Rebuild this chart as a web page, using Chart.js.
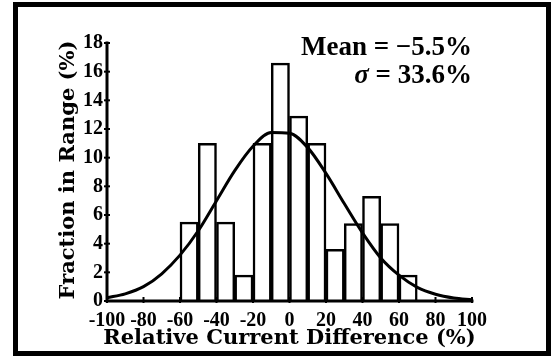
<!DOCTYPE html>
<html>
<head>
<meta charset="utf-8">
<script src="https://cdn.jsdelivr.net/npm/chart.js@4"></script>
<style>
html,body{margin:0;padding:0;background:#fff;}
#wrap{width:558px;height:358px;}
</style>
</head>
<body>
<div id="wrap"><canvas id="c" width="558" height="358"></canvas></div>
<script>
// ---- data ----
const binCenters = [-55, -45, -35, -25, -15, -5, 5, 15, 25, 35, 45, 55, 65];
const binFractions = [5.5, 11.0, 5.5, 1.8, 11.0, 16.6, 12.9, 11.0, 3.6, 5.4, 7.3, 5.4, 1.8];
const curveX = [-100, -90, -80, -70, -60, -50, -40, -30, -20, -10, 0, 10, 20, 30, 40, 50, 60, 70, 80, 90, 100];
const curveY = [0.23, 0.5, 1.0, 1.9, 3.2, 4.9, 7.0, 9.1, 10.8, 11.75, 11.7, 10.7, 8.9, 6.8, 4.75, 3.0, 1.8, 0.95, 0.47, 0.21, 0.09];
const xTicks = [-100, -80, -60, -40, -20, 0, 20, 40, 60, 80, 100];
const yTicks = [0, 2, 4, 6, 8, 10, 12, 14, 16, 18];
const xTitle = "Relative Current Difference (%)";
const yTitle = "Fraction in Range (%)";
const meanText = "Mean = \u22125.5%";
const sigmaSymbol = "\u03c3";
const sigmaText = " = 33.6%";

const TICK_FONT = {family: "'Liberation Serif', serif", size: 20, weight: 'bold'};

const decor = {
  id: 'decor',
  afterDraw(chart) {
    const ctx = chart.ctx;
    const xs = chart.scales.x, ys = chart.scales.y;
    ctx.save();
    ctx.strokeStyle = '#000';
    const x0 = xs.getPixelForValue(-100), x1 = xs.getPixelForValue(100);
    const y0 = ys.getPixelForValue(0), yTop = ys.getPixelForValue(18);
    // axis lines
    ctx.lineWidth = 3;
    ctx.lineCap = 'square';
    ctx.beginPath();
    ctx.moveTo(x0, yTop); ctx.lineTo(x0, y0); ctx.lineTo(x1, y0);
    ctx.stroke();
    ctx.lineCap = 'butt';
    // tick marks crossing the axes
    ctx.lineWidth = 2;
    yTicks.forEach(v => {
      const y = ys.getPixelForValue(v);
      ctx.beginPath(); ctx.moveTo(x0 - 3, y); ctx.lineTo(x0 + 3, y); ctx.stroke();
    });
    xTicks.forEach(v => {
      const x = xs.getPixelForValue(v);
      ctx.beginPath(); ctx.moveTo(x, y0 - 4); ctx.lineTo(x, y0 + 2); ctx.stroke();
    });
    ctx.fillStyle = '#000';
    // x title
    ctx.font = "bold 21px 'DejaVu Serif', serif";
    ctx.textAlign = 'center';
    ctx.textBaseline = 'alphabetic';
    ctx.fillText(xTitle, (x0 + x1) / 2, 344);
    // y title
    ctx.save();
    ctx.translate(74, 170);
    ctx.rotate(-Math.PI / 2);
    ctx.fillText(yTitle, 0, 0);
    ctx.restore();
    // annotation
    ctx.font = "bold 27px 'Liberation Serif', serif";
    ctx.textAlign = 'right';
    ctx.fillText(meanText, 472, 55);
    ctx.fillText(sigmaText, 472, 83);
    const w = ctx.measureText(sigmaText).width;
    ctx.font = "italic bold 27px 'Liberation Serif', serif";
    ctx.fillText(sigmaSymbol, 472 - w, 83);
    // frame
    ctx.lineWidth = 5;
    ctx.strokeRect(15.5, 4.5, 533, 349);
    ctx.restore();
  }
};

new Chart(document.getElementById('c'), {
  data: {
    datasets: [
      {
        type: 'line',
        data: curveX.map((x, i) => ({x: x, y: curveY[i]})),
        borderColor: '#000',
        borderWidth: 3,
        pointRadius: 0,
        cubicInterpolationMode: 'monotone',
        fill: false,
        clip: false,
        order: 0
      },
      {
        type: 'bar',
        data: binCenters.map((x, i) => ({x: x, y: binFractions[i]})),
        backgroundColor: '#fff',
        borderColor: '#000',
        borderWidth: 2.5,
        barPercentage: 1,
        categoryPercentage: 1,
        order: 1
      }
    ]
  },
  options: {
    responsive: false,
    devicePixelRatio: 1,
    animation: false,
    layout: {padding: {left: 0, right: 86, top: 43, bottom: 0}},
    plugins: {legend: {display: false}, tooltip: {enabled: false}},
    scales: {
      x: {
        type: 'linear',
        offset: false,
        min: -100, max: 100,
        afterBuildTicks(s) { s.ticks = xTicks.map(v => ({value: v})); },
        afterFit(s) { s.height = 358 - 301; },
        grid: {display: false, drawTicks: false},
        border: {display: false},
        ticks: {color: '#000', font: TICK_FONT, padding: 8, maxRotation: 0, autoSkip: false,
                callback: v => String(v)}
      },
      y: {
        type: 'linear',
        min: 0, max: 18,
        afterBuildTicks(s) { s.ticks = yTicks.map(v => ({value: v})); },
        afterFit(s) { s.width = 107; },
        grid: {display: false, drawTicks: false},
        border: {display: false},
        ticks: {color: '#000', font: TICK_FONT, padding: 4, autoSkip: false,
                callback: v => String(v)}
      }
    }
  },
  plugins: [decor]
});
</script>
</body>
</html>
